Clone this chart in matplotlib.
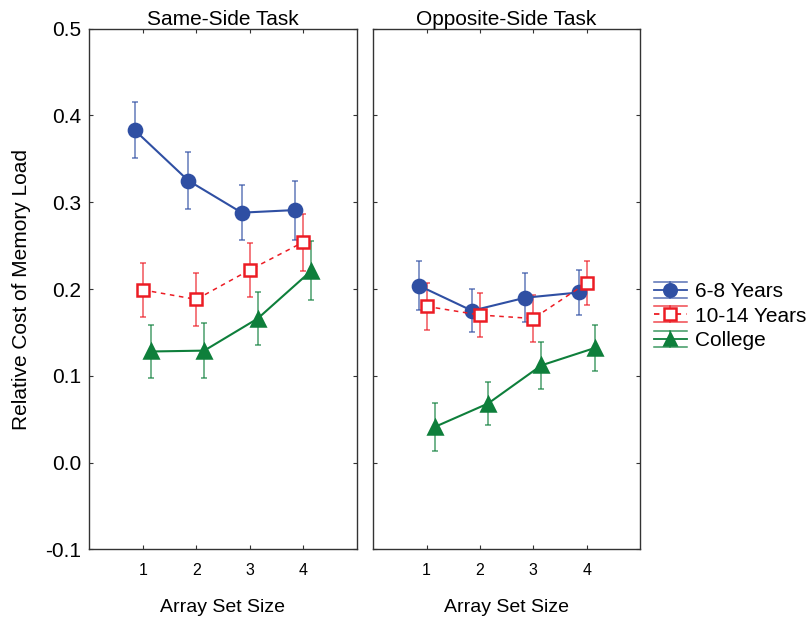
import matplotlib
matplotlib.use("Agg")
import matplotlib.pyplot as plt
from matplotlib.lines import Line2D
from matplotlib.legend_handler import HandlerBase

plt.rcParams['font.family'] = ['Liberation Sans', 'DejaVu Sans']

set_size = [1, 2, 3, 4]
groups = ["6-8 Years", "10-14 Years", "College"]

# Same-Side Task
same_mean = {
    "6-8 Years": [0.383, 0.325, 0.288, 0.291],
    "10-14 Years": [0.199, 0.188, 0.222, 0.254],
    "College": [0.128, 0.129, 0.166, 0.221],
}
same_err = {
    "6-8 Years": [0.032, 0.033, 0.032, 0.034],
    "10-14 Years": [0.031, 0.031, 0.031, 0.033],
    "College": [0.031, 0.032, 0.031, 0.034],
}

# Opposite-Side Task
opp_mean = {
    "6-8 Years": [0.204, 0.175, 0.190, 0.196],
    "10-14 Years": [0.180, 0.170, 0.166, 0.207],
    "College": [0.041, 0.068, 0.112, 0.132],
}
opp_err = {
    "6-8 Years": [0.028, 0.025, 0.028, 0.026],
    "10-14 Years": [0.027, 0.025, 0.027, 0.025],
    "College": [0.028, 0.025, 0.027, 0.026],
}

# estilos por grupo
styles = {
    "6-8 Years": dict(color="#2f4fa3", marker="o", ls="-", mfc="#2f4fa3", offset=-0.15),
    "10-14 Years": dict(color="#ec1c24", marker="s", ls=(0, (3, 3)), mfc="white", offset=0.0),
    "College": dict(color="#0e7f3b", marker="^", ls="-", mfc="#0e7f3b", offset=0.15),
}


class ErrHandler(HandlerBase):
    # leyenda estilo Statistica: linea con marcador y dos lineas horizontales
    def create_artists(self, legend, orig_handle, xdescent, ydescent, width, height, fontsize, trans):
        st = orig_handle
        c = st["color"]
        y0 = height / 2 - ydescent
        dy = height * 0.55
        arts = []
        for yy in (y0 + dy, y0 - dy):
            arts.append(Line2D([-xdescent, width - xdescent], [yy, yy], color=c, lw=1.1, alpha=0.8, transform=trans))
        arts.append(Line2D([width / 2 - xdescent] * 2, [y0 - dy, y0 + dy], color=c, lw=1.1, alpha=0.8, transform=trans))
        arts.append(Line2D([-xdescent, width - xdescent], [y0, y0], color=c, lw=1.3, ls=st["ls"], transform=trans))
        arts.append(Line2D([width / 2 - xdescent], [y0], color=c, marker=st["marker"], ms=9,
                           mfc=st["mfc"], mec=c, mew=1.8, ls="none", transform=trans))
        return arts


fig = plt.figure(figsize=(8.11, 6.2), dpi=100)
ax1 = fig.add_axes([0.1101, 0.114, 0.3297, 0.8397])
ax2 = fig.add_axes([0.4603, 0.114, 0.3289, 0.8397])

for ax, means, errs, title in [(ax1, same_mean, same_err, "Same-Side Task"),
                                (ax2, opp_mean, opp_err, "Opposite-Side Task")]:
    for g in groups:
        st = styles[g]
        xs = [x + st["offset"] for x in set_size]
        ax.errorbar(xs, means[g], yerr=errs[g], fmt="none", ecolor=st["color"], elinewidth=1.1,
                    capsize=2.5, capthick=1.1, alpha=0.75, zorder=2)
        ax.plot(xs, means[g], color=st["color"], ls=st["ls"], lw=1.5 if st["ls"] == "-" else 1.1,
                marker=st["marker"], ms=9.5 if st["marker"] != "s" else 9, mfc=st["mfc"],
                mec=st["color"], mew=1.8, zorder=3)
    ax.set_xlim(0, 5)
    ax.set_ylim(-0.1, 0.5)
    ax.set_xticks(set_size)
    ax.set_yticks([-0.1, 0.0, 0.1, 0.2, 0.3, 0.4, 0.5])
    ax.set_title(title, fontsize=15, pad=3)
    ax.set_xlabel("Array Set Size", fontsize=14, labelpad=15)
    ax.tick_params(direction="in", top=True, right=True, length=3, width=0.8, colors="#333333")
    ax.tick_params(axis="x", labelsize=11.5, pad=10, labelcolor="black")
    ax.tick_params(axis="y", labelsize=15, pad=6, labelcolor="black")
    for sp in ax.spines.values():
        sp.set_color("#333333")
        sp.set_linewidth(1.0)

ax1.set_yticklabels(["-0.1", "0.0", "0.1", "0.2", "0.3", "0.4", "0.5"])
ax1.set_ylabel("Relative Cost of Memory Load", fontsize=15, labelpad=10)
ax2.tick_params(axis="y", labelleft=False)

handles = [styles[g] for g in groups]
fig.legend(handles, groups, handler_map={dict: ErrHandler()}, loc="center left",
           bbox_to_anchor=(0.806, 0.49), frameon=False, fontsize=15,
           handlelength=1.6, handletextpad=0.4, labelspacing=0.25, borderaxespad=0, borderpad=0)

fig.savefig("out.png", dpi=100)
